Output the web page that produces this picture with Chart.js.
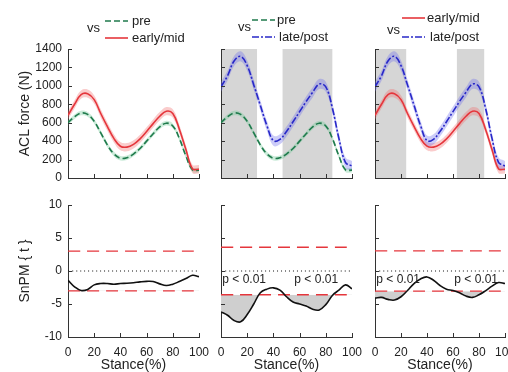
<!DOCTYPE html>
<html>
<head>
<meta charset="utf-8">
<script src="https://cdn.jsdelivr.net/npm/chart.js@4.4.1/dist/chart.umd.min.js"></script>
<style>
  body { margin: 0; background: #fff; }
  #wrap { position: relative; width: 508px; height: 372px; overflow: hidden; }
  canvas { position: absolute; }
</style>
</head>
<body>
<div id="wrap">
  <canvas id="force1" width="214" height="182" style="left:0;top:0"></canvas>
  <canvas id="force2" width="156" height="182" style="left:210px;top:0"></canvas>
  <canvas id="force3" width="144" height="182" style="left:364px;top:0"></canvas>
  <canvas id="snpm1" width="214" height="182" style="left:0;top:190px"></canvas>
  <canvas id="snpm2" width="156" height="182" style="left:210px;top:190px"></canvas>
  <canvas id="snpm3" width="144" height="182" style="left:364px;top:190px"></canvas>
</div>
<script>
// stance phase (%) sampled every 5%
const stance = [0, 5, 10, 15, 20, 25, 30, 35, 40, 45, 50, 55, 60, 65, 70, 75, 80, 85, 90, 95, 100];

// mean ACL force (N)
const preForce   = [600, 665, 705, 690, 615, 490, 360, 262, 215, 220, 260, 320, 400, 480, 555, 595, 565, 430, 240, 90, 85];
const earlyForce = [680, 800, 905, 915, 850, 700, 560, 430, 345, 335, 365, 425, 505, 590, 670, 725, 700, 530, 310, 100, 95];
const lateForce  = [990, 1110, 1270, 1320, 1220, 1010, 790, 570, 405, 420, 505, 610, 720, 830, 930, 1020, 990, 760, 430, 170, 130];
// half-width of the shaded band around each mean
const preBand = 25;
const earlyBand = 45;
const lateBand = 55;

// SnPM{t} curves and critical thresholds
const tEarlyVsPre  = [-1.4, -2.4, -2.95, -2.8, -2.1, -1.9, -1.9, -2.0, -1.9, -1.85, -1.77, -1.65, -1.57, -1.6, -1.95, -2.2, -2.0, -1.6, -1.15, -0.65, -0.85];
const tLateVsPre   = [-6.2, -6.7, -7.5, -7.7, -6.6, -5.0, -3.3, -2.75, -2.55, -2.9, -3.9, -4.7, -5.0, -5.3, -5.8, -5.9, -5.1, -3.7, -2.9, -2.1, -2.7];
const tLateVsEarly = [-4.1, -4.0, -4.3, -4.4, -3.9, -2.95, -1.9, -1.2, -0.9, -1.4, -2.2, -2.75, -2.95, -3.3, -3.8, -4.0, -3.6, -3.0, -2.3, -1.75, -1.9];
const tCritical = [3.0, 3.6, 3.05];

// significant clusters (% stance)
const clustersLatePre = [[0, 27.5], [47, 85]];
const clustersLateEarly = [[0, 24], [63, 84]];
const pLabel = 'p < 0.01';

const forceTicks = { min: 0, max: 1400, step: 200 };
const tTicks = { min: -10, max: 10, step: 5 };
const stanceTicks = { min: 0, max: 100, step: 20 };

const green = '#1f7a4c';
const red = '#e5363c';
const blue = '#2828c8';
const axisColor = '#333';
const textColor = '#222';
const fontFamily = '"Liberation Sans", Arial, Helvetica, sans-serif';

Chart.defaults.font.family = fontFamily;
Chart.defaults.color = textColor;

const groups = {
  pre:   { label: 'pre',       values: preForce,   band: preBand,   color: green, fill: 'rgba(110,200,150,0.35)', dash: [6, 3] },
  early: { label: 'early/mid', values: earlyForce, band: earlyBand, color: red,   fill: 'rgba(240,110,110,0.35)', dash: [] },
  late:  { label: 'late/post', values: lateForce,  band: lateBand,  color: blue,  fill: 'rgba(110,110,235,0.35)', dash: [7, 2, 2, 2] }
};

function pts(ys, shift) {
  return stance.map((s, i) => ({ x: s, y: ys[i] + (shift || 0) }));
}

function forceSets(list) {
  const sets = [];
  list.forEach(g => {
    sets.push({ data: pts(g.values, -g.band), borderWidth: 0, pointRadius: 0, fill: false, order: 2 });
    sets.push({ data: pts(g.values, g.band), borderWidth: 0, pointRadius: 0, fill: '-1', backgroundColor: g.fill, order: 2 });
  });
  list.forEach(g => {
    sets.push({ data: pts(g.values), borderColor: g.color, borderWidth: 1.6, borderDash: g.dash, pointRadius: 0, fill: false, order: 0 });
  });
  return sets;
}

function snpmSets(t, crit) {
  const x0 = stance[0], x1 = stance[stance.length - 1];
  return [
    { data: pts(t), borderColor: '#111', borderWidth: 1.6, pointRadius: 0, order: 0,
      fill: { value: -crit, above: 'rgba(0,0,0,0)', below: '#cfcfcf' } },
    { data: [{ x: x0, y: crit }, { x: x1, y: crit }], borderColor: red, borderWidth: 1.3, borderDash: [12, 7], pointRadius: 0, fill: false, order: 1 },
    { data: [{ x: x0, y: -crit }, { x: x1, y: -crit }], borderColor: red, borderWidth: 1.3, borderDash: [12, 7], pointRadius: 0, fill: false, order: 1 },
    { data: [{ x: x0, y: 0 }, { x: x1, y: 0 }], borderColor: '#111', borderWidth: 1, borderDash: [1, 3], pointRadius: 0, fill: false, order: 1 }
  ];
}

// shading, inward tick marks, legends and p-value labels
const panelDeco = {
  id: 'panelDeco',
  beforeDraw(chart, args, opts) {
    const ctx = chart.ctx, a = chart.chartArea, x = chart.scales.x;
    (opts.clusters || []).forEach(c => {
      const l = x.getPixelForValue(c[0]), r = x.getPixelForValue(c[1]);
      ctx.fillStyle = '#d6d6d6';
      ctx.fillRect(l, a.top, r - l, a.bottom - a.top);
    });
  },
  afterDraw(chart, args, opts) {
    const ctx = chart.ctx, a = chart.chartArea, x = chart.scales.x, y = chart.scales.y;
    ctx.save();
    ctx.strokeStyle = axisColor;
    ctx.lineWidth = 1;
    ctx.setLineDash([]);
    ctx.beginPath();
    y.ticks.forEach(t => {
      const py = Math.round(y.getPixelForValue(t.value)) + 0.5;
      ctx.moveTo(a.left, py);
      ctx.lineTo(a.left + 4, py);
    });
    x.ticks.forEach(t => {
      const px = Math.round(x.getPixelForValue(t.value)) + 0.5;
      ctx.moveTo(px, a.bottom);
      ctx.lineTo(px, a.bottom - 4);
    });
    ctx.stroke();

    const lg = opts.legend;
    if (lg) {
      ctx.font = '13px ' + fontFamily;
      ctx.fillStyle = textColor;
      ctx.textBaseline = 'middle';
      ctx.textAlign = 'left';
      ctx.fillText('vs', a.left + lg.vsX, lg.vsY);
      lg.rows.forEach(r => {
        const g = groups[r.key];
        ctx.strokeStyle = g.color;
        ctx.lineWidth = 1.6;
        ctx.setLineDash(g.dash);
        ctx.beginPath();
        ctx.moveTo(a.left + lg.lineX[0], r.y);
        ctx.lineTo(a.left + lg.lineX[1], r.y);
        ctx.stroke();
        ctx.setLineDash([]);
        ctx.fillStyle = textColor;
        ctx.fillText(g.label, a.left + r.textX, r.y);
      });
    }

    (opts.pLabels || []).forEach(p => {
      ctx.font = '12px ' + fontFamily;
      ctx.fillStyle = textColor;
      ctx.textBaseline = 'middle';
      ctx.textAlign = 'left';
      ctx.fillText(pLabel, x.getPixelForValue(p.x), y.getPixelForValue(p.t));
    });
    ctx.restore();
  }
};

function makeChart(id, cfg) {
  const yWidth = cfg.first ? 68 : 11;
  const xHeight = cfg.bottom ? 35 : 4;
  const yRange = cfg.bottom ? tTicks : forceTicks;
  const noPad = s => { s.paddingLeft = 0; s.paddingRight = 0; s.paddingTop = 0; s.paddingBottom = 0; };
  return new Chart(document.getElementById(id), {
    type: 'line',
    data: { datasets: cfg.datasets },
    plugins: [panelDeco],
    options: {
      responsive: false,
      animation: false,
      events: [],
      elements: { line: { tension: 0.4 } },
      layout: { padding: { top: cfg.bottom ? 15 : 49, right: cfg.right, left: 0, bottom: 0 } },
      plugins: {
        legend: { display: false },
        tooltip: { enabled: false },
        filler: { drawTime: 'beforeDatasetsDraw' },
        panelDeco: { clusters: cfg.clusters, legend: cfg.legend, pLabels: cfg.pLabels }
      },
      scales: {
        x: {
          type: 'linear',
          min: stanceTicks.min, max: stanceTicks.max,
          grid: { display: false, drawTicks: false },
          border: { display: true, color: axisColor, width: 1 },
          ticks: { display: !!cfg.bottom, stepSize: stanceTicks.step, padding: 8, color: textColor, font: { size: 12 }, maxRotation: 0, callback: v => String(v) },
          title: { display: !!cfg.bottom, text: 'Stance(%)', color: textColor, font: { size: 14, lineHeight: 1 }, padding: 0 },
          afterFit: s => { s.height = xHeight; noPad(s); }
        },
        y: {
          min: yRange.min, max: yRange.max,
          grid: { display: false, drawTicks: false },
          border: { display: true, color: axisColor, width: 1 },
          ticks: { display: !!cfg.first, stepSize: yRange.step, padding: 6, color: textColor, font: { size: 12 }, callback: v => String(v) },
          title: { display: !!cfg.first, text: cfg.bottom ? 'SnPM { t }' : 'ACL force (N)', color: textColor, font: { size: 14 }, padding: { top: 17, bottom: 0 } },
          afterFit: s => { s.width = yWidth; noPad(s); }
        }
      }
    }
  });
}

makeChart('force1', {
  first: true, right: 15,
  datasets: forceSets([groups.early, groups.pre]),
  legend: { vsX: 19, vsY: 28, lineX: [37, 60], rows: [{ key: 'pre', y: 21, textX: 64 }, { key: 'early', y: 38, textX: 64 }] }
});
makeChart('force2', {
  right: 14,
  datasets: forceSets([groups.late, groups.pre]),
  clusters: clustersLatePre,
  legend: { vsX: 17, vsY: 27, lineX: [31, 54], rows: [{ key: 'pre', y: 20, textX: 56 }, { key: 'late', y: 37, textX: 58 }] }
});
makeChart('force3', {
  right: 3,
  datasets: forceSets([groups.late, groups.early]),
  clusters: clustersLateEarly,
  legend: { vsX: 12, vsY: 30, lineX: [27, 50], rows: [{ key: 'early', y: 18, textX: 52 }, { key: 'late', y: 37, textX: 55 }] }
});
makeChart('snpm1', { first: true, bottom: true, right: 15, datasets: snpmSets(tEarlyVsPre, tCritical[0]) });
makeChart('snpm2', {
  bottom: true, right: 14, datasets: snpmSets(tLateVsPre, tCritical[1]),
  pLabels: [{ x: 1, t: -1.35 }, { x: 56, t: -1.35 }]
});
makeChart('snpm3', {
  bottom: true, right: 3, datasets: snpmSets(tLateVsEarly, tCritical[2]),
  pLabels: [{ x: 1, t: -1.35 }, { x: 61, t: -1.35 }]
});
</script>
</body>
</html>
